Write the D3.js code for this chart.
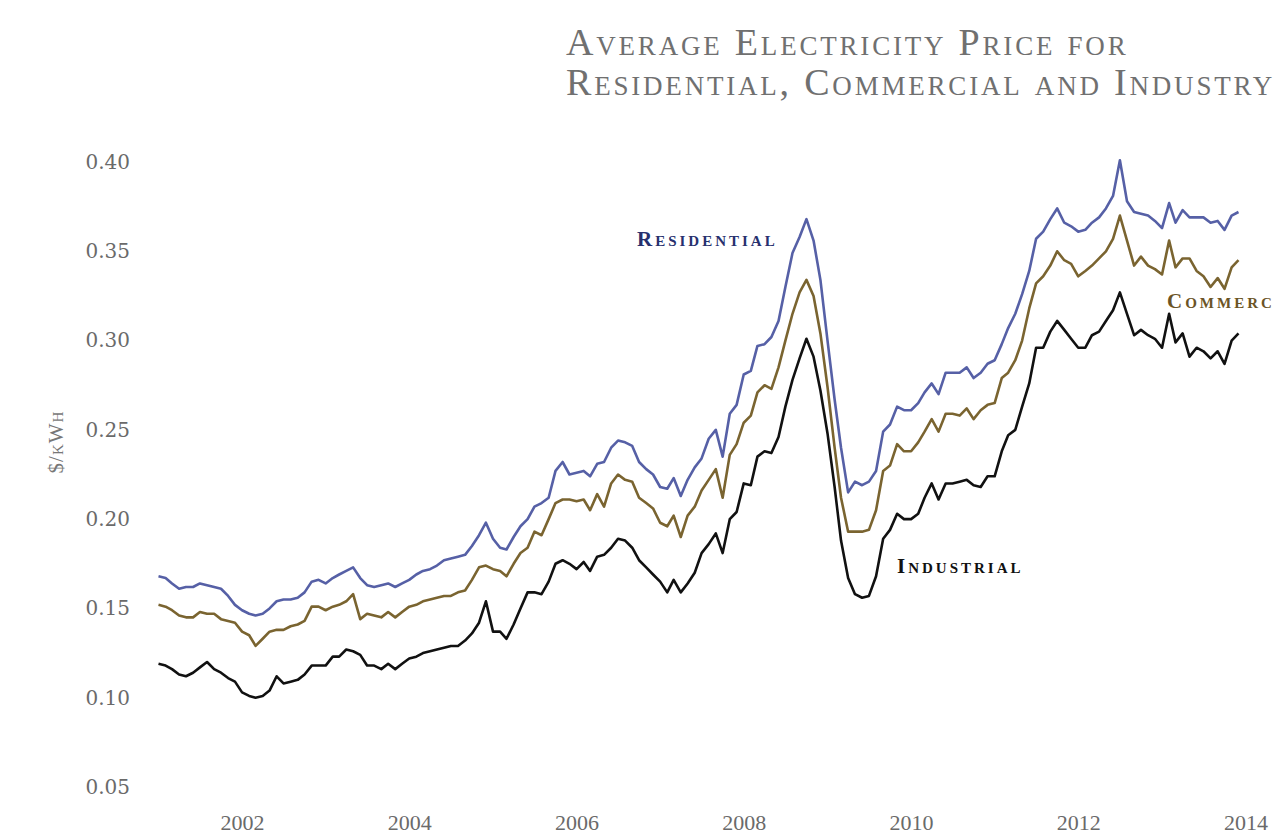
<!DOCTYPE html>
<html>
<head>
<meta charset="utf-8">
<script src="https://cdn.jsdelivr.net/npm/d3@7"></script>
<style>
  body { margin: 0; background: #fff; }
  svg { display: block; }
  .title { font-family: "Liberation Serif", serif; font-variant: small-caps; fill: #707070; font-size: 38px; letter-spacing: 2.8px; }
  .tick text { fill: #6a6a6a; }
  .series-label { font-family: "Liberation Serif", serif; font-variant: small-caps; font-weight: bold; font-size: 21px; letter-spacing: 3px; }
</style>
</head>
<body>
<svg id="chart" width="1274" height="837"></svg>
<script>
// monthly averages, Jan 2001 - Dec 2013 ($/kWh), one row per year
const residential = [
  0.168, 0.167, 0.164, 0.161, 0.162, 0.162, 0.164, 0.163, 0.162, 0.161, 0.157, 0.152,
  0.149, 0.147, 0.146, 0.147, 0.150, 0.154, 0.155, 0.155, 0.156, 0.159, 0.165, 0.166,
  0.164, 0.167, 0.169, 0.171, 0.173, 0.167, 0.163, 0.162, 0.163, 0.164, 0.162, 0.164,
  0.166, 0.169, 0.171, 0.172, 0.174, 0.177, 0.178, 0.179, 0.180, 0.185, 0.191, 0.198,
  0.189, 0.184, 0.183, 0.190, 0.196, 0.200, 0.207, 0.209, 0.212, 0.227, 0.232, 0.225,
  0.226, 0.227, 0.224, 0.231, 0.232, 0.240, 0.244, 0.243, 0.241, 0.232, 0.228, 0.225,
  0.218, 0.217, 0.223, 0.213, 0.222, 0.229, 0.234, 0.245, 0.250, 0.235, 0.259, 0.264,
  0.281, 0.283, 0.297, 0.298, 0.302, 0.311, 0.330, 0.349, 0.358, 0.368, 0.356, 0.334,
  0.300, 0.267, 0.240, 0.215, 0.221, 0.219, 0.221, 0.227, 0.249, 0.253, 0.263, 0.261,
  0.261, 0.265, 0.271, 0.276, 0.270, 0.282, 0.282, 0.282, 0.285, 0.279, 0.282, 0.287,
  0.289, 0.298, 0.307, 0.315, 0.326, 0.339, 0.357, 0.361, 0.368, 0.374, 0.366, 0.364,
  0.361, 0.362, 0.366, 0.369, 0.374, 0.381, 0.401, 0.378, 0.372, 0.371, 0.370, 0.367,
  0.363, 0.377, 0.366, 0.373, 0.369, 0.369, 0.369, 0.366, 0.367, 0.362, 0.370, 0.372
];
const commercial = [
  0.152, 0.151, 0.149, 0.146, 0.145, 0.145, 0.148, 0.147, 0.147, 0.144, 0.143, 0.142,
  0.137, 0.135, 0.129, 0.133, 0.137, 0.138, 0.138, 0.140, 0.141, 0.143, 0.151, 0.151,
  0.149, 0.151, 0.152, 0.154, 0.158, 0.144, 0.147, 0.146, 0.145, 0.148, 0.145, 0.148,
  0.151, 0.152, 0.154, 0.155, 0.156, 0.157, 0.157, 0.159, 0.160, 0.166, 0.173, 0.174,
  0.172, 0.171, 0.168, 0.175, 0.181, 0.184, 0.193, 0.191, 0.200, 0.209, 0.211, 0.211,
  0.210, 0.211, 0.205, 0.214, 0.207, 0.220, 0.225, 0.222, 0.221, 0.212, 0.209, 0.206,
  0.198, 0.196, 0.202, 0.190, 0.202, 0.207, 0.216, 0.222, 0.228, 0.212, 0.236, 0.242,
  0.254, 0.258, 0.271, 0.275, 0.273, 0.285, 0.300, 0.315, 0.327, 0.334, 0.325, 0.304,
  0.274, 0.240, 0.212, 0.193, 0.193, 0.193, 0.194, 0.205, 0.227, 0.230, 0.242, 0.238,
  0.238, 0.243, 0.249, 0.256, 0.249, 0.259, 0.259, 0.258, 0.262, 0.256, 0.261, 0.264,
  0.265, 0.279, 0.282, 0.289, 0.300, 0.318, 0.332, 0.336, 0.342, 0.350, 0.345, 0.343,
  0.336, 0.339, 0.342, 0.346, 0.350, 0.357, 0.370, 0.356, 0.342, 0.347, 0.342, 0.340,
  0.337, 0.356, 0.341, 0.346, 0.346, 0.339, 0.336, 0.330, 0.335, 0.329, 0.341, 0.345
];
const industrial = [
  0.119, 0.118, 0.116, 0.113, 0.112, 0.114, 0.117, 0.120, 0.116, 0.114, 0.111, 0.109,
  0.103, 0.101, 0.100, 0.101, 0.104, 0.112, 0.108, 0.109, 0.110, 0.113, 0.118, 0.118,
  0.118, 0.123, 0.123, 0.127, 0.126, 0.124, 0.118, 0.118, 0.116, 0.119, 0.116, 0.119,
  0.122, 0.123, 0.125, 0.126, 0.127, 0.128, 0.129, 0.129, 0.132, 0.136, 0.142, 0.154,
  0.137, 0.137, 0.133, 0.141, 0.150, 0.159, 0.159, 0.158, 0.165, 0.175, 0.177, 0.175,
  0.172, 0.176, 0.171, 0.179, 0.180, 0.184, 0.189, 0.188, 0.184, 0.177, 0.173, 0.169,
  0.165, 0.159, 0.166, 0.159, 0.164, 0.170, 0.181, 0.186, 0.192, 0.181, 0.200, 0.204,
  0.220, 0.219, 0.235, 0.238, 0.237, 0.246, 0.263, 0.278, 0.290, 0.301, 0.291, 0.272,
  0.248, 0.218, 0.188, 0.167, 0.158, 0.156, 0.157, 0.168, 0.189, 0.194, 0.203, 0.200,
  0.200, 0.203, 0.212, 0.220, 0.211, 0.220, 0.220, 0.221, 0.222, 0.219, 0.218, 0.224,
  0.224, 0.238, 0.247, 0.250, 0.263, 0.276, 0.296, 0.296, 0.305, 0.311, 0.306, 0.301,
  0.296, 0.296, 0.303, 0.305, 0.311, 0.317, 0.327, 0.315, 0.303, 0.306, 0.303, 0.301,
  0.296, 0.315, 0.299, 0.304, 0.291, 0.296, 0.294, 0.290, 0.294, 0.287, 0.300, 0.304
];

const yTicks = [0.05, 0.10, 0.15, 0.20, 0.25, 0.30, 0.35, 0.40];
const xTickYears = [2002, 2004, 2006, 2008, 2010, 2012, 2014];
const titleLines = ["Average Electricity Price for", "Residential, Commercial and Industry"];

const months = d3.timeMonth.range(new Date(2001, 0, 1), new Date(2014, 0, 1));

const svg = d3.select("#chart");

const x = d3.scaleTime()
    .domain([months[0], months[months.length - 1]])
    .range([158.5, 1238.5]);

const y = d3.scaleLinear()
    .domain([0.05, 0.40])
    .range([787, 162]);

//title, two lines
svg.append("g")
    .selectAll("text")
    .data(titleLines)
    .enter()
    .append("text")
    .attr("class", "title")
    .attr("x", 566)
    .attr("y", (d, i) => 55 + i * 40)
    .text(d => d);

//y axis, labels only
const yAxis = svg.append("g")
    .attr("transform", "translate(140,0)")
    .call(d3.axisLeft(y).tickValues(yTicks).tickFormat(d3.format(".2f")).tickSize(0).tickPadding(10));
yAxis.select(".domain").remove();
yAxis.selectAll("text")
    .style("font-family", "DejaVu Serif, serif")
    .style("font-size", "20px");

//x axis, labels only
const xAxis = svg.append("g")
    .attr("transform", "translate(0,810)")
    .call(d3.axisBottom(x)
        .tickValues(xTickYears.map(yr => new Date(yr, 0, 1)))
        .tickFormat(d3.timeFormat("%Y"))
        .tickSize(0)
        .tickPadding(4));
xAxis.select(".domain").remove();
xAxis.selectAll("text")
    .style("font-family", "Liberation Serif, serif")
    .style("font-size", "22px")
    .attr("dy", "0.71em");

//y axis title
svg.append("text")
    .attr("transform", "translate(63,442) rotate(-90)")
    .attr("text-anchor", "middle")
    .style("font-family", "Liberation Serif, serif")
    .style("font-variant", "small-caps")
    .style("font-size", "21px")
    .style("letter-spacing", "1px")
    .style("fill", "#777")
    .text("$/kWh");

//the three lines
const series = [
    { name: "Residential", values: residential, color: "#5660a6" },
    { name: "Commercial", values: commercial, color: "#7a6430" },
    { name: "Industrial", values: industrial, color: "#111111" }
];

const line = d3.line()
    .x((d, i) => x(months[i]))
    .y(d => y(d));

svg.append("g")
    .selectAll("path")
    .data(series)
    .enter()
    .append("path")
    .attr("d", d => line(d.values))
    .attr("fill", "none")
    .attr("stroke", d => d.color)
    .attr("stroke-width", 2.6)
    .attr("stroke-linejoin", "round");

//series labels written on the chart
const labels = [
    { text: "Residential", x: 637, y: 246, color: "#27306e" },
    { text: "Commercial", x: 1167, y: 308, color: "#6b5426" },
    { text: "Industrial", x: 897, y: 573, color: "#111111" }
];

svg.append("g")
    .selectAll("text")
    .data(labels)
    .enter()
    .append("text")
    .attr("class", "series-label")
    .attr("x", d => d.x)
    .attr("y", d => d.y)
    .attr("fill", d => d.color)
    .text(d => d.text);
</script>
</body>
</html>
